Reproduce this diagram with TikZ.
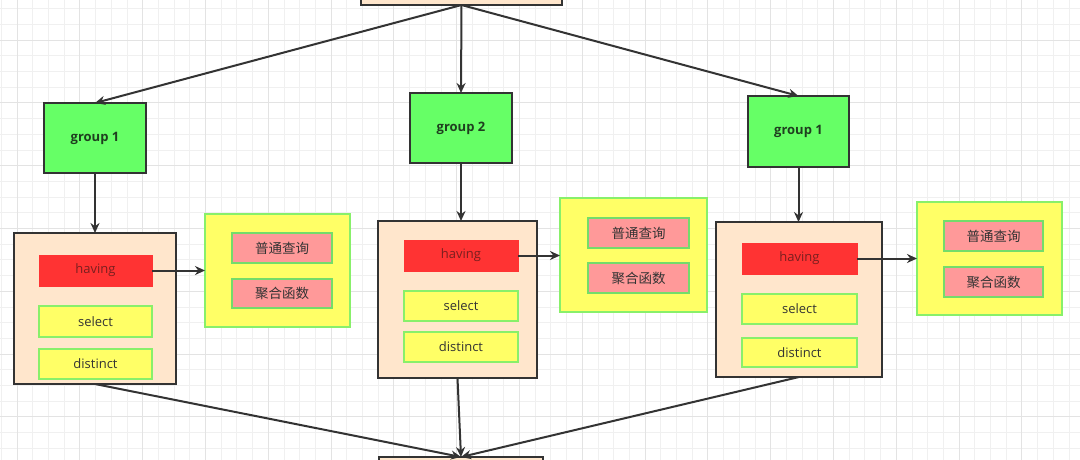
\documentclass[tikz,border=0pt]{standalone}
\usepackage{fontspec}
\setmainfont{Open Sans}
\newfontfamily\cjk{Noto Sans CJK SC}
\usetikzlibrary{arrows.meta}
\definecolor{peach}{HTML}{FFE6CC}
\definecolor{dark}{HTML}{333333}
\definecolor{grn}{HTML}{66FF66}
\definecolor{grntext}{HTML}{1F3F1F}
\definecolor{redfill}{HTML}{FF3333}
\definecolor{redtext}{HTML}{7A1F1F}
\definecolor{yel}{HTML}{FFFF66}
\definecolor{yelborder}{HTML}{88F06A}
\definecolor{pink}{HTML}{FF9999}
\definecolor{pinkborder}{HTML}{74DC6A}
\definecolor{gridminor}{HTML}{F0F0F0}
\definecolor{gridmajor}{HTML}{E3E3E3}
\tikzset{
  bx/.style={inner sep=0pt, outer sep=0pt, font=\fontsize{13}{15}\selectfont},
  outerbox/.style={bx, draw=dark, fill=peach, line width=2pt},
  groupbox/.style={bx, draw=dark, fill=grn, line width=2pt, text=grntext, font=\fontsize{13}{15}\selectfont\bfseries},
  havingbox/.style={bx, draw=redfill, fill=redfill, line width=1pt, text=redtext},
  itembox/.style={bx, draw=yelborder, fill=yel, line width=2pt, text=dark},
  funcbox/.style={bx, draw=yelborder, fill=yel, line width=2pt},
  pinkbox/.style={bx, draw=pinkborder, fill=pink, line width=2pt, text=dark, font=\fontsize{13.5}{15}\selectfont\cjk},
  conn/.style={draw=dark, line width=2pt, -{Stealth[length=10pt,width=9pt]}},
}
\begin{document}
\begin{tikzpicture}[x=1pt,y=-1pt]
\clip (0,0) rectangle (1080,460);
\fill[white] (0,0) rectangle (1080,460);
% grid
\foreach \i in {0,...,68} {\draw[gridminor, line width=0.8pt] ({1.3+\i*15.7},0) -- ({1.3+\i*15.7},460);}
\foreach \i in {0,...,29} {\draw[gridminor, line width=0.8pt] (0,{8.6+\i*15.7}) -- (1080,{8.6+\i*15.7});}
\foreach \i in {-15,...,1} {\draw[gridmajor, line width=0.9pt] ({959+\i*62.8},0) -- ({959+\i*62.8},460);}
\foreach \i in {-5,...,1} {\draw[gridmajor, line width=0.9pt] (0,{354+\i*62.8}) -- (1080,{354+\i*62.8});}

% top and bottom boxes (partly outside)
\node[outerbox, minimum width=201pt, minimum height=50pt] (top) at (461.5,-20) {};
\node[outerbox, minimum width=164pt, minimum height=50pt] (bot) at (461,482) {};

% left column
\node[groupbox, minimum width=102pt, minimum height=70pt] (g1) at (95,138) {group 1};
\node[outerbox, minimum width=162pt, minimum height=151pt] (o1) at (95,308.5) {};
\node[havingbox, minimum width=113pt, minimum height=31pt] (h1) at (95.5,270.5) {having};
\node[itembox, minimum width=113pt, minimum height=31pt] (s1) at (95.5,321.5) {select};
\node[itembox, minimum width=113pt, minimum height=30pt] (d1) at (95.5,364) {distinct};
\node[funcbox, minimum width=145pt, minimum height=113pt] (y1) at (277.5,270.5) {};
\node[pinkbox, minimum width=100pt, minimum height=30pt] (p1a) at (282,248) {普通查询};
\node[pinkbox, minimum width=100pt, minimum height=29pt] (p1b) at (282,293.5) {聚合函数};

% middle column
\node[groupbox, minimum width=102pt, minimum height=70pt] (g2) at (461,128) {group 2};
\node[outerbox, minimum width=159pt, minimum height=157pt] (o2) at (457.5,299.5) {};
\node[havingbox, minimum width=114pt, minimum height=31pt] (h2) at (461,255.5) {having};
\node[itembox, minimum width=114pt, minimum height=30pt] (s2) at (461,306) {select};
\node[itembox, minimum width=114pt, minimum height=30pt] (d2) at (461,347) {distinct};
\node[funcbox, minimum width=147pt, minimum height=114pt] (y2) at (633.5,255) {};
\node[pinkbox, minimum width=101pt, minimum height=30pt] (p2a) at (638.5,233) {普通查询};
\node[pinkbox, minimum width=101pt, minimum height=30pt] (p2b) at (638.5,278) {聚合函数};

% right column
\node[groupbox, minimum width=101pt, minimum height=71pt] (g3) at (798.5,131.5) {group 1};
\node[outerbox, minimum width=166pt, minimum height=155pt] (o3) at (799,299.5) {};
\node[havingbox, minimum width=115pt, minimum height=31pt] (h3) at (799.5,258.5) {having};
\node[itembox, minimum width=115pt, minimum height=30pt] (s3) at (799.5,309) {select};
\node[itembox, minimum width=115pt, minimum height=29pt] (d3) at (799.5,352.5) {distinct};
\node[funcbox, minimum width=145pt, minimum height=113pt] (y3) at (989.5,258.5) {};
\node[pinkbox, minimum width=99pt, minimum height=30pt] (p3a) at (993.5,236) {普通查询};
\node[pinkbox, minimum width=99pt, minimum height=30pt] (p3b) at (993.5,282) {聚合函数};

% connectors
\draw[conn] (top.south) -- (g1.north);
\draw[conn] (top.south) -- (g2.north);
\draw[conn] (top.south) -- (g3.north);
\draw[conn] (g1.south) -- (o1.north);
\draw[conn] (g2.south) -- (o2.north -| g2.south);
\draw[conn] (g3.south) -- (o3.north -| g3.south);
\draw[conn] (h1.east) -- (y1.west |- h1.east);
\draw[conn] (h2.east) -- (y2.west |- h2.east);
\draw[conn] (h3.east) -- (y3.west |- h3.east);
\draw[conn] (o1.south) -- (bot.north);
\draw[conn] (o2.south) -- (bot.north);
\draw[conn] (o3.south) -- (bot.north);
\end{tikzpicture}
\end{document}
